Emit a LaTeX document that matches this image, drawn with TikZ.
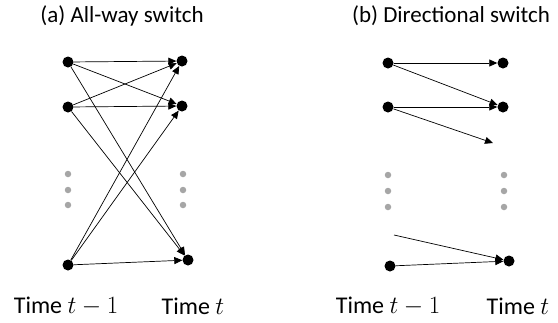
\documentclass[tikz,border=0pt]{standalone}
\usepackage{fontspec}
\setmainfont{Carlito}
\usetikzlibrary{arrows.meta}
\tikzset{
	vert/.style={circle,inner sep=0,fill=black,minimum size=11pt},
	gdot/.style={circle,inner sep=0,fill=black!35,minimum size=6.5pt},
	diredge/.style={-{Triangle[width=7pt,length=8pt]},color=black,line width=0.7pt},
	title/.style={font=\fontsize{23}{26}\selectfont,inner sep=0},
	timelabel/.style={font=\fontsize{24}{28}\selectfont,inner sep=0}
}
\begin{document}
\begin{tikzpicture}[x=1pt,y=-1pt]
	\useasboundingbox (0,0) rectangle (558,322);
	%%%(a) all-way
	\node[title] (ta) at (122,16) {(a) All-way switch};
	\node[vert] (a1) at (68,62) {};
	\node[vert] (a2) at (68,107) {};
	\node[vert] (a3) at (68,265) {};
	\node[vert] (b1) at (182,61) {};
	\node[vert] (b2) at (182,106) {};
	\node[vert] (b3) at (188,260) {};
	\foreach \y [count=\i] in {174,190,205}{
		\node[gdot] (ga\i) at (68,\y) {};
		\node[gdot] (gb\i) at (183,\y) {};
	}
	\foreach \s in {a1,a2,a3}
		\foreach \t in {b1,b2,b3}
			\draw[diredge] (\s) -- (\t);
	\node[timelabel] (tla) at (66,306) {Time $t-1$};
	\node[timelabel] (tlb) at (193,306) {Time $t$};
	
	%%%(b) directional
	\node[title] (tb) at (451,16) {(b) Directional switch};
	\node[vert] (c1) at (388,63) {};
	\node[vert] (c2) at (388,107) {};
	\node[vert] (c3) at (390,266) {};
	\node[vert] (d1) at (503,63) {};
	\node[vert] (d2) at (503,107) {};
	\node[vert] (d3) at (509,261) {};
	\foreach \y [count=\i] in {175,191,207}{
		\node[gdot] (gc\i) at (388,\y) {};
		\node[gdot] (gd\i) at (504,\y) {};
	}
	\coordinate (c2out) at (493,143);
	\coordinate (d3in) at (394,235);
	\draw[diredge] (c1) -- (d1);
	\draw[diredge] (c1) -- (d2);
	\draw[diredge] (c2) -- (d2);
	\draw[diredge] (c2) -- (c2out);
	\draw[diredge] (d3in) -- (d3);
	\draw[diredge] (c3) -- (d3);
	\node[timelabel] (tlc) at (388,306) {Time $t-1$};
	\node[timelabel] (tld) at (518,306) {Time $t$};
\end{tikzpicture}
\end{document}
